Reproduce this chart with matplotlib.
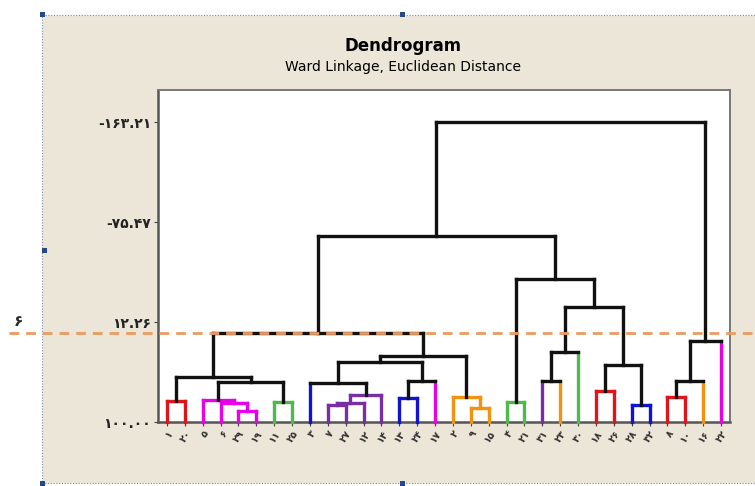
import matplotlib.pyplot as plt
from matplotlib.patches import Rectangle
from matplotlib.lines import Line2D
import matplotlib.transforms as mtransforms

# برگ‌ها (از چپ به راست)
leaf_labels = ["۱", "۲۰", "۵", "۶", "۲۹", "۱۹", "۱۱", "۲۵", "۳", "۷", "۲۷", "۱۲",
               "۱۴", "۱۳", "۲۴", "۱۷", "۲", "۹", "۱۵", "۴", "۲۱", "۳۱", "۲۳", "۳۰",
               "۱۸", "۲۶", "۲۸", "۳۲", "۸", "۱۰", "۱۶", "۲۲"]
leaf_colors = ["red", "red", "magenta", "magenta", "magenta", "magenta", "green", "green",
               "blue", "purple", "purple", "purple", "purple", "blue", "blue", "magenta",
               "orange", "orange", "orange", "green", "green", "purple", "orange", "green",
               "red", "red", "blue", "blue", "red", "red", "orange", "magenta"]

# ادغام‌ها (مانند linkage): گره‌های جدید از 32 شماره می‌گیرند
merge_left = [0, 4, 3, 2, 6, 35, 32, 9, 39, 40, 8, 13, 43, 42, 17, 16, 45, 38,
              19, 21, 51, 24, 26, 53, 52, 50, 49, 28, 59, 60, 58]
merge_right = [1, 5, 33, 34, 7, 36, 37, 10, 11, 12, 41, 14, 15, 44, 18, 46, 47, 48,
               20, 22, 23, 25, 27, 54, 55, 56, 57, 29, 30, 31, 61]
merge_sim = [81.3, 90.3, 83.3, 80.7, 82.5, 64.6, 60.3, 85.1, 83.3, 76.3, 66.1, 79.2,
             63.6, 47.1, 88.0, 77.8, 42.1, 22.2, 82.2, 64.0, 38.8, 72.8, 85.1, 50.0,
             -0.9, -25.5, -63.2, 77.8, 64.0, 28.7, -163.21]
merge_color = ["red", "magenta", "magenta", "magenta", "green", "black", "black",
               "purple", "purple", "purple", "black", "blue", "black", "black",
               "orange", "orange", "black", "black", "green", "black", "black",
               "red", "blue", "black", "black", "black", "black", "red", "black",
               "black", "black"]

y_ticks = [100.0, 12.26, -75.47, -163.21]
y_tick_labels = ["۱۰۰.۰۰", "۱۲.۲۶", "-۷۵.۴۷", "-۱۶۳.۲۱"]
cut_sim = 21.9

palette = {"red": "#E0141B", "magenta": "#E800E8", "green": "#4DBA4A", "blue": "#1212D2",
           "purple": "#7A2EA6", "orange": "#F2920F", "black": "#111111"}

fig = plt.figure(figsize=(7.55, 4.86), dpi=100)
fig.patch.set_facecolor("white")

# پس‌زمینه بژ با کادر انتخاب نقطه‌چین
fig.patches.append(Rectangle((42 / 755, 3 / 486), 0.97, 468 / 486, transform=fig.transFigure,
                             facecolor="#ECE6D8", edgecolor="#7F8FA8", linestyle=(0, (1, 1.5)),
                             linewidth=0.8, zorder=-10))
for hx, hy in [(42, 15), (403, 15), (44, 250), (42, 483), (403, 483)]:
    fig.patches.append(Rectangle(((hx - 2.5) / 755, 1 - (hy + 2.5) / 486), 5 / 755, 5 / 486,
                                 transform=fig.transFigure, facecolor="#27488A",
                                 edgecolor="none", zorder=-5))

ax = fig.add_axes([158 / 755, 64 / 486, 572 / 755, 332 / 486])
ax.set_facecolor("white")

n = len(leaf_labels)
xpos = {i: float(i) for i in range(n)}
ypos = {i: 100.0 for i in range(n)}

for k in range(len(merge_left)):
    node = n + k
    a, b = merge_left[k], merge_right[k]
    h = merge_sim[k]
    c = merge_color[k]
    for child in (a, b):
        if c != "black":
            vc = c
        elif child < n:
            vc = leaf_colors[child]
        else:
            vc = "black"
        ax.plot([xpos[child], xpos[child]], [ypos[child], h], color=palette[vc],
                lw=2.4, solid_capstyle="projecting", zorder=3, clip_on=False)
    ax.plot([xpos[a], xpos[b]], [h, h], color=palette[c], lw=2.4,
            solid_capstyle="projecting", zorder=3, clip_on=False)
    xpos[node] = (xpos[a] + xpos[b]) / 2
    ypos[node] = h

ax.set_xlim(-0.5, n - 0.5)
ax.set_ylim(100, -191.3)

ax.set_yticks(y_ticks)
ax.set_yticklabels(y_tick_labels, fontsize=10, fontweight="bold", color="#222222")
ax.set_xticks(range(n))
ax.set_xticklabels(leaf_labels, fontsize=7, fontweight="bold", color="#333333",
                   rotation=55, ha="right", va="top", rotation_mode="anchor")
ax.tick_params(axis="both", length=3, width=0.8, color="#444444", pad=2)

for side in ["left", "bottom"]:
    ax.spines[side].set_color("#555555")
    ax.spines[side].set_linewidth(1.8)
for side in ["top", "right"]:
    ax.spines[side].set_color("#777777")
    ax.spines[side].set_linewidth(1.4)

# خط برش نقطه‌چین در عرض کل شکل
trans = mtransforms.blended_transform_factory(fig.transFigure, ax.transData)
fig.lines.append(Line2D([0.012, 1.0], [cut_sim, cut_sim], transform=trans, color="#EC9A5E",
                        lw=2.0, linestyle=(0, (3.5, 2.5)), zorder=5))
fig.text(18 / 755, 1 - 322 / 486, "۶", fontsize=11, fontweight="bold", color="#2A2A2A",
         ha="center", va="center")

fig.text(403 / 755, 1 - 46 / 486, "Dendrogram", fontsize=12, fontweight="bold",
         family="DejaVu Sans", ha="center", va="center")
fig.text(403 / 755, 1 - 67 / 486, "Ward Linkage, Euclidean Distance", fontsize=10,
         family="DejaVu Sans", ha="center", va="center")

plt.savefig("out.png", dpi=100, facecolor=fig.get_facecolor())
